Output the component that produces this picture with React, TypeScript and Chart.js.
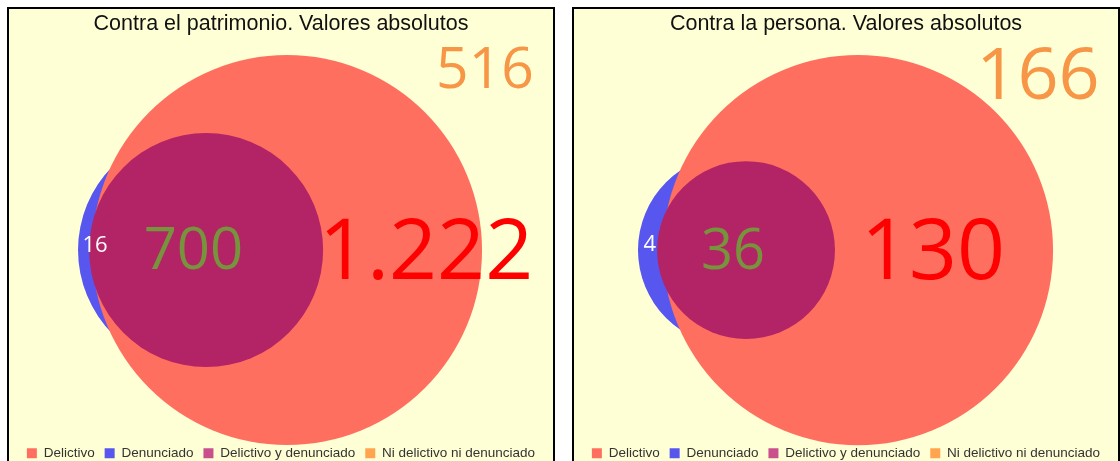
import React, { useEffect, useRef } from 'react';
import { Chart, registerables } from 'chart.js';

Chart.register(...registerables);

// ---- Data ----
const categories = ['Delictivo', 'Denunciado', 'Delictivo y denunciado', 'Ni delictivo ni denunciado'];
const panelTitles = ['Contra el patrimonio. Valores absolutos', 'Contra la persona. Valores absolutos'];

const patrimonioValues = [1222, 16, 700, 516];
const personaValues = [130, 4, 36, 166];

// Venn geometry in data units (Delictivo circle radius = 100)
const patrimonioCircleX = [0, -46.2, -41.5, 0];
const patrimonioCircleY = [0, 0, 0, 0];
const patrimonioCircleR = [100, 61, 60, 0];
const patrimonioLabelX = [71.3, -98.5, -48, 101.5];
const patrimonioLabelY = [0.5, 3, 1, 93.8];
const patrimonioLabelSize = [84, 22, 58, 57];
const patrimonioRangeX = [-142.6, 136.4];

const personaCircleX = [0, -63.6, -57.4, 0];
const personaCircleY = [0, 0, 0, 0];
const personaCircleR = [100, 49.2, 45.6, 0];
const personaLabelX = [38.5, -106.7, -64.1, 92.3];
const personaLabelY = [0.5, 3.6, 0.5, 90.8];
const personaLabelSize = [84, 22, 56, 72];
const personaRangeX = [-145.6, 133.3];

const rangeY = [-95.6, 109.4];

// ---- Styles ----
const circleColors = ['#FF6F60', '#5757F0', '#B22465', 'rgba(0,0,0,0)'];
const legendColors = ['#FF6F60', '#5757F0', '#C9508C', '#FFA54F'];
const labelColors = ['#FF0000', '#FFFFFF', '#77933C', '#F79646'];
const drawOrder = [1, 0, 2];
const BG = '#FFFFD6';

const fmt = (n: number) => String(n).replace(/\B(?=(\d{3})+(?!\d))/g, '.');

const vennPlugin = {
  id: 'vennDraw',
  beforeDatasetsDraw(chart: any) {
    const ctx = chart.ctx;
    const xs = chart.scales.x;
    ctx.save();
    for (const i of drawOrder) {
      const meta = chart.getDatasetMeta(i);
      const el = meta.data[0];
      const raw = chart.data.datasets[i].data[0];
      const rpx = Math.abs(xs.getPixelForValue(raw.x + raw.r) - xs.getPixelForValue(raw.x));
      if (!el || rpx <= 0) continue;
      ctx.beginPath();
      ctx.arc(el.x, el.y, rpx, 0, Math.PI * 2);
      ctx.fillStyle = chart.data.datasets[i].circleColor;
      ctx.fill();
    }
    ctx.restore();
  },
  afterDatasetsDraw(chart: any) {
    const ctx = chart.ctx;
    const xs = chart.scales.x;
    const ys = chart.scales.y;
    ctx.save();
    chart.data.datasets.forEach((ds: any) => {
      const l = ds.valueLabel;
      const px = xs.getPixelForValue(l.x);
      const py = ys.getPixelForValue(l.y);
      ctx.font = `${l.size}px "Open Sans", "Noto Sans", sans-serif`;
      ctx.fillStyle = l.color;
      ctx.textAlign = 'center';
      ctx.textBaseline = 'alphabetic';
      ctx.fillText(l.text, px, py + 0.357 * l.size);
    });
    ctx.restore();
  },
};

type PanelProps = {
  title: string;
  values: number[];
  cx: number[];
  cy: number[];
  cr: number[];
  lx: number[];
  ly: number[];
  ls: number[];
  rangeX: number[];
  left: number;
};

function Panel(props: PanelProps) {
  const ref = useRef<HTMLCanvasElement | null>(null);
  useEffect(() => {
    if (!ref.current) return;
    const datasets = categories.map((cat, i) => ({
      label: cat,
      data: [{ x: props.cx[i], y: props.cy[i], r: props.cr[i] }],
      backgroundColor: legendColors[i],
      borderColor: legendColors[i],
      borderWidth: 0,
      pointRadius: 0,
      pointHoverRadius: 0,
      pointBorderWidth: 0,
      showLine: false,
      circleColor: circleColors[i],
      valueLabel: {
        x: props.lx[i],
        y: props.ly[i],
        size: props.ls[i],
        color: labelColors[i],
        text: fmt(props.values[i]),
      },
    }));
    const chart = new Chart(ref.current, {
      type: 'scatter',
      data: { datasets } as any,
      options: {
        animation: false,
        responsive: false,
        events: [],
        layout: { padding: 0 },
        scales: {
          x: { type: 'linear', min: props.rangeX[0], max: props.rangeX[1], display: false },
          y: { type: 'linear', min: rangeY[0], max: rangeY[1], display: false },
        },
        plugins: {
          title: {
            display: true,
            text: props.title,
            color: '#111111',
            font: { family: '"Liberation Sans", Arial, sans-serif', size: 21.5, weight: 'normal' },
            padding: { top: 2, bottom: 0 },
          },
          legend: {
            display: true,
            position: 'bottom',
            labels: {
              boxWidth: 10,
              boxHeight: 10,
              padding: 10,
              color: '#333333',
              font: { family: '"Liberation Sans", Arial, sans-serif', size: 13.5 },
            },
          },
          tooltip: { enabled: false },
        },
      } as any,
      plugins: [vennPlugin],
    });
    return () => chart.destroy();
  }, []);
  return (
    <div
      style={{
        position: 'absolute',
        left: props.left,
        top: 7,
        width: 548,
        height: 465,
        boxSizing: 'border-box',
        border: '2px solid #000',
        background: BG,
      }}
    >
      <canvas ref={ref} width={544} height={461} style={{ display: 'block' }} />
    </div>
  );
}

export default function App() {
  return (
    <div
      style={{
        position: 'absolute',
        left: 0,
        top: 0,
        width: 1120,
        height: 461,
        overflow: 'hidden',
        background: '#FFFFFF',
      }}
    >
      <Panel
        title={panelTitles[0]}
        values={patrimonioValues}
        cx={patrimonioCircleX}
        cy={patrimonioCircleY}
        cr={patrimonioCircleR}
        lx={patrimonioLabelX}
        ly={patrimonioLabelY}
        ls={patrimonioLabelSize}
        rangeX={patrimonioRangeX}
        left={7}
      />
      <Panel
        title={panelTitles[1]}
        values={personaValues}
        cx={personaCircleX}
        cy={personaCircleY}
        cr={personaCircleR}
        lx={personaLabelX}
        ly={personaLabelY}
        ls={personaLabelSize}
        rangeX={personaRangeX}
        left={572}
      />
    </div>
  );
}
